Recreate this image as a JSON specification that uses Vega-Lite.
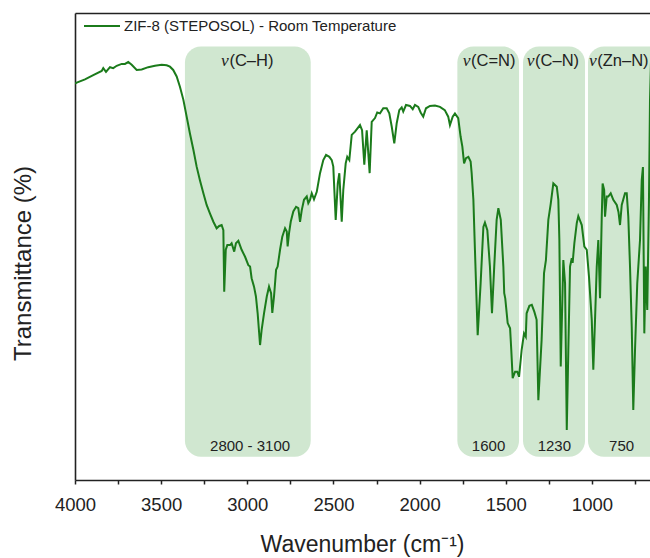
{
  "$schema": "https://vega.github.io/schema/vega-lite/v6.json",
  "width": 575,
  "height": 467,
  "autosize": {"type": "none"},
  "padding": {"left": 75, "top": 13, "right": 0, "bottom": 78},
  "background": "white",
  "config": {
    "view": {"stroke": null},
    "font": "Liberation Sans",
    "text": {"font": "Liberation Sans", "color": "#222222"}
  },
  "datasets": {
    "spectrum": [
      {"wn": 4000, "t": 84.9}, {"wn": 3990, "t": 85.1}, {"wn": 3942, "t": 85.8}, {"wn": 3894, "t": 86.7},
      {"wn": 3845, "t": 87.6}, {"wn": 3836, "t": 88.2}, {"wn": 3820, "t": 87.4}, {"wn": 3797, "t": 88.4},
      {"wn": 3778, "t": 88.2}, {"wn": 3758, "t": 88.7}, {"wn": 3729, "t": 89.1}, {"wn": 3710, "t": 89.1},
      {"wn": 3691, "t": 89.5}, {"wn": 3671, "t": 88.9}, {"wn": 3642, "t": 87.8}, {"wn": 3613, "t": 87.9},
      {"wn": 3575, "t": 88.4}, {"wn": 3536, "t": 88.7}, {"wn": 3497, "t": 88.9}, {"wn": 3468, "t": 88.8},
      {"wn": 3449, "t": 88.5}, {"wn": 3430, "t": 87.8}, {"wn": 3410, "t": 86.4}, {"wn": 3391, "t": 84.2},
      {"wn": 3371, "t": 81.4}, {"wn": 3352, "t": 77.8}, {"wn": 3333, "t": 74.2}, {"wn": 3313, "t": 70.7},
      {"wn": 3294, "t": 67.1}, {"wn": 3275, "t": 64.2}, {"wn": 3255, "t": 61.4}, {"wn": 3236, "t": 58.9},
      {"wn": 3217, "t": 57.1}, {"wn": 3197, "t": 55.3}, {"wn": 3178, "t": 53.9}, {"wn": 3163, "t": 54.4},
      {"wn": 3149, "t": 54.6}, {"wn": 3139, "t": 53.5}, {"wn": 3134, "t": 40.3}, {"wn": 3125, "t": 49.3},
      {"wn": 3116, "t": 50.3}, {"wn": 3100, "t": 50.3}, {"wn": 3091, "t": 50.7}, {"wn": 3076, "t": 48.9},
      {"wn": 3066, "t": 50.7}, {"wn": 3052, "t": 51.2}, {"wn": 3033, "t": 49.3}, {"wn": 3013, "t": 47.8},
      {"wn": 2994, "t": 46.0}, {"wn": 2984, "t": 45.7}, {"wn": 2975, "t": 43.2}, {"wn": 2961, "t": 41.4},
      {"wn": 2950, "t": 39.3}, {"wn": 2940, "t": 35.7}, {"wn": 2926, "t": 28.9}, {"wn": 2917, "t": 32.1},
      {"wn": 2903, "t": 35.7}, {"wn": 2887, "t": 39.3}, {"wn": 2874, "t": 41.4}, {"wn": 2862, "t": 40.0},
      {"wn": 2855, "t": 35.8}, {"wn": 2845, "t": 39.3}, {"wn": 2833, "t": 45.0}, {"wn": 2824, "t": 45.7},
      {"wn": 2810, "t": 49.3}, {"wn": 2797, "t": 52.1}, {"wn": 2781, "t": 53.9}, {"wn": 2771, "t": 53.2},
      {"wn": 2766, "t": 50.0}, {"wn": 2758, "t": 52.8}, {"wn": 2748, "t": 55.3}, {"wn": 2733, "t": 57.5},
      {"wn": 2717, "t": 58.5}, {"wn": 2704, "t": 58.2}, {"wn": 2694, "t": 55.3}, {"wn": 2684, "t": 57.8},
      {"wn": 2671, "t": 60.0}, {"wn": 2655, "t": 60.7}, {"wn": 2646, "t": 59.3}, {"wn": 2636, "t": 60.0},
      {"wn": 2626, "t": 61.4}, {"wn": 2613, "t": 60.1}, {"wn": 2597, "t": 61.7}, {"wn": 2578, "t": 65.7},
      {"wn": 2559, "t": 68.5}, {"wn": 2543, "t": 69.6}, {"wn": 2524, "t": 69.2}, {"wn": 2510, "t": 68.5},
      {"wn": 2501, "t": 67.1}, {"wn": 2487, "t": 55.7}, {"wn": 2475, "t": 63.5}, {"wn": 2466, "t": 65.7},
      {"wn": 2452, "t": 55.3}, {"wn": 2443, "t": 62.1}, {"wn": 2429, "t": 67.8}, {"wn": 2420, "t": 69.2},
      {"wn": 2408, "t": 68.5}, {"wn": 2394, "t": 73.9}, {"wn": 2375, "t": 74.6}, {"wn": 2346, "t": 76.0},
      {"wn": 2334, "t": 74.9}, {"wn": 2321, "t": 67.5}, {"wn": 2307, "t": 74.9}, {"wn": 2290, "t": 65.7},
      {"wn": 2278, "t": 76.7}, {"wn": 2259, "t": 77.5}, {"wn": 2246, "t": 78.7}, {"wn": 2230, "t": 78.5},
      {"wn": 2211, "t": 79.6}, {"wn": 2191, "t": 79.6}, {"wn": 2176, "t": 78.5}, {"wn": 2162, "t": 75.7},
      {"wn": 2147, "t": 72.1}, {"wn": 2133, "t": 76.4}, {"wn": 2118, "t": 79.2}, {"wn": 2104, "t": 79.8},
      {"wn": 2095, "t": 78.9}, {"wn": 2079, "t": 80.3}, {"wn": 2056, "t": 80.1}, {"wn": 2040, "t": 79.4},
      {"wn": 2027, "t": 80.3}, {"wn": 2008, "t": 79.9}, {"wn": 1994, "t": 78.7}, {"wn": 1979, "t": 77.8},
      {"wn": 1963, "t": 79.6}, {"wn": 1940, "t": 80.1}, {"wn": 1911, "t": 80.2}, {"wn": 1882, "t": 79.9},
      {"wn": 1854, "t": 79.2}, {"wn": 1834, "t": 77.8}, {"wn": 1824, "t": 76.0}, {"wn": 1808, "t": 77.8},
      {"wn": 1795, "t": 78.5}, {"wn": 1776, "t": 77.5}, {"wn": 1762, "t": 73.5}, {"wn": 1752, "t": 71.4},
      {"wn": 1742, "t": 67.8}, {"wn": 1731, "t": 68.9}, {"wn": 1717, "t": 69.2}, {"wn": 1704, "t": 68.2},
      {"wn": 1698, "t": 65.7}, {"wn": 1688, "t": 60.0}, {"wn": 1679, "t": 49.3}, {"wn": 1663, "t": 31.0},
      {"wn": 1646, "t": 42.1}, {"wn": 1630, "t": 54.2}, {"wn": 1621, "t": 55.1}, {"wn": 1607, "t": 53.5},
      {"wn": 1592, "t": 45.7}, {"wn": 1580, "t": 35.7}, {"wn": 1567, "t": 45.7}, {"wn": 1553, "t": 55.7},
      {"wn": 1543, "t": 58.2}, {"wn": 1529, "t": 55.7}, {"wn": 1514, "t": 45.7}, {"wn": 1509, "t": 40.0},
      {"wn": 1503, "t": 38.9}, {"wn": 1489, "t": 33.6}, {"wn": 1475, "t": 32.5}, {"wn": 1468, "t": 27.8},
      {"wn": 1460, "t": 21.8}, {"wn": 1446, "t": 23.2}, {"wn": 1433, "t": 23.2}, {"wn": 1423, "t": 22.1},
      {"wn": 1408, "t": 27.8}, {"wn": 1394, "t": 31.4}, {"wn": 1384, "t": 30.7}, {"wn": 1379, "t": 35.7},
      {"wn": 1363, "t": 37.3}, {"wn": 1349, "t": 37.5}, {"wn": 1334, "t": 36.0}, {"wn": 1321, "t": 34.3},
      {"wn": 1311, "t": 17.1}, {"wn": 1292, "t": 30.0}, {"wn": 1278, "t": 44.3}, {"wn": 1267, "t": 47.1},
      {"wn": 1253, "t": 55.7}, {"wn": 1239, "t": 59.2}, {"wn": 1224, "t": 63.5}, {"wn": 1204, "t": 62.8},
      {"wn": 1195, "t": 60.0}, {"wn": 1189, "t": 51.4}, {"wn": 1181, "t": 24.3}, {"wn": 1166, "t": 47.1},
      {"wn": 1156, "t": 42.1}, {"wn": 1146, "t": 10.7}, {"wn": 1137, "t": 27.8}, {"wn": 1127, "t": 45.7},
      {"wn": 1117, "t": 47.5}, {"wn": 1112, "t": 46.5}, {"wn": 1102, "t": 50.7}, {"wn": 1088, "t": 55.0},
      {"wn": 1079, "t": 56.5}, {"wn": 1059, "t": 54.6}, {"wn": 1044, "t": 50.0}, {"wn": 1030, "t": 49.3},
      {"wn": 1017, "t": 43.5}, {"wn": 1001, "t": 34.3}, {"wn": 992, "t": 23.6}, {"wn": 982, "t": 34.3},
      {"wn": 972, "t": 45.7}, {"wn": 963, "t": 51.4}, {"wn": 953, "t": 38.9}, {"wn": 943, "t": 56.4},
      {"wn": 938, "t": 63.5}, {"wn": 929, "t": 62.1}, {"wn": 924, "t": 56.4}, {"wn": 914, "t": 60.7},
      {"wn": 905, "t": 60.7}, {"wn": 891, "t": 61.4}, {"wn": 876, "t": 60.0}, {"wn": 856, "t": 58.9},
      {"wn": 846, "t": 57.4}, {"wn": 837, "t": 54.6}, {"wn": 827, "t": 58.9}, {"wn": 808, "t": 61.4},
      {"wn": 798, "t": 61.4}, {"wn": 789, "t": 56.4}, {"wn": 779, "t": 45.7}, {"wn": 769, "t": 32.8},
      {"wn": 760, "t": 15.0}, {"wn": 750, "t": 27.8}, {"wn": 737, "t": 42.1}, {"wn": 721, "t": 51.4},
      {"wn": 711, "t": 64.2}, {"wn": 704, "t": 67.0}, {"wn": 696, "t": 31.4}, {"wn": 688, "t": 45.7},
      {"wn": 679, "t": 36.4}, {"wn": 669, "t": 60.0}, {"wn": 663, "t": 81.4}, {"wn": 657, "t": 89.9}
    ],
    "bands": [
      {"lo": 2632, "hi": 3362, "anchor": 3104, "mode": "(C–H)", "range": "2800 - 3100", "mid": 2984},
      {"lo": 1423, "hi": 1781, "anchor": 1702, "mode": "(C=N)", "range": "1600", "mid": 1600},
      {"lo": 1040, "hi": 1400, "anchor": 1330, "mode": "(C–N)", "range": "1230", "mid": 1218},
      {"lo": 560, "hi": 1023, "anchor": 969, "mode": "(Zn–N)", "range": "750", "mid": 828}
    ]
  },
  "layer": [
    {
      "data": {"name": "bands"},
      "mark": {"type": "rect", "cornerRadius": 16, "color": "#d0e7d0", "clip": true},
      "encoding": {
        "x": {
          "field": "lo", "type": "quantitative",
          "scale": {"domain": [663, 4000], "reverse": true, "nice": false, "zero": false},
          "axis": {"orient": "top", "title": null, "labels": false, "ticks": false, "grid": false,
                   "domain": true, "domainColor": "#222222", "domainWidth": 1.6}
        },
        "x2": {"field": "hi"},
        "y": {"datum": 92.8, "type": "quantitative",
              "scale": {"domain": [0, 100], "nice": false, "zero": false}},
        "y2": {"datum": 5.0}
      }
    },
    {
      "data": {"name": "spectrum"},
      "mark": {"type": "line", "strokeWidth": 2, "clip": true, "interpolate": "linear"},
      "encoding": {
        "x": {
          "field": "wn", "type": "quantitative",
          "scale": {"domain": [663, 4000], "reverse": true, "nice": false, "zero": false},
          "axis": {
            "orient": "bottom",
            "title": "Wavenumber (cm⁻¹)",
            "titleFont": "Liberation Sans", "titleFontSize": 23, "titleFontWeight": "normal",
            "titleColor": "#222222", "titleX": 287, "titleY": 64, "titleBaseline": "middle",
            "titleAlign": "center",
            "values": [750, 1000, 1250, 1500, 1750, 2000, 2250, 2500, 2750, 3000, 3250, 3500, 3750, 4000],
            "format": "d",
            "labelExpr": "datum.value % 500 === 0 ? datum.label : ''",
            "labelFont": "Liberation Sans", "labelFontSize": 18.5, "labelColor": "#222222",
            "labelPadding": 11, "labelFlush": false, "labelOverlap": false,
            "tickSize": 4, "tickWidth": 1.5, "tickColor": "#222222",
            "domainColor": "#222222", "domainWidth": 1.6, "grid": false
          }
        },
        "y": {
          "field": "t", "type": "quantitative",
          "scale": {"domain": [0, 100], "nice": false, "zero": false},
          "axis": {
            "orient": "left",
            "title": "Transmittance (%)",
            "titleFont": "Liberation Sans", "titleFontSize": 24, "titleFontWeight": "normal",
            "titleColor": "#222222", "titleX": -52, "titleY": 250, "titleBaseline": "middle",
            "titleAlign": "center", "titleAngle": -90,
            "labels": false, "ticks": false, "grid": false, "domain": true,
            "domainColor": "#222222", "domainWidth": 1.6
          }
        },
        "color": {
          "datum": "ZIF-8 (STEPOSOL) - Room Temperature",
          "type": "nominal",
          "scale": {"range": ["#1b7b1b"]},
          "legend": {
            "title": null, "orient": "none", "legendX": 8, "legendY": -6, "padding": 0,
            "symbolType": "stroke", "symbolSize": 1296, "symbolStrokeWidth": 2,
            "labelFont": "Liberation Sans", "labelFontSize": 15, "labelColor": "#222222",
            "labelOffset": 3, "labelLimit": 500
          }
        }
      }
    },
    {
      "data": {"name": "bands"},
      "mark": {"type": "text", "align": "left", "baseline": "alphabetic", "fontSize": 16.5,
               "font": "Liberation Sans", "color": "#222222"},
      "encoding": {
        "x": {"field": "anchor", "type": "quantitative", "axis": null,
              "scale": {"domain": [663, 4000], "reverse": true, "nice": false, "zero": false}},
        "y": {"datum": 88.6, "type": "quantitative"},
        "text": {"field": "mode"}
      }
    },
    {
      "data": {"name": "bands"},
      "mark": {"type": "text", "align": "right", "baseline": "alphabetic", "fontSize": 17.5,
               "font": "Liberation Serif", "fontStyle": "italic", "color": "#222222", "dx": -0.5},
      "encoding": {
        "x": {"field": "anchor", "type": "quantitative", "axis": null,
              "scale": {"domain": [663, 4000], "reverse": true, "nice": false, "zero": false}},
        "y": {"datum": 88.6, "type": "quantitative"},
        "text": {"value": "ν"}
      }
    },
    {
      "data": {"name": "bands"},
      "mark": {"type": "text", "align": "center", "baseline": "alphabetic", "fontSize": 15,
               "font": "Liberation Sans", "color": "#222222"},
      "encoding": {
        "x": {"field": "mid", "type": "quantitative", "axis": null,
              "scale": {"domain": [663, 4000], "reverse": true, "nice": false, "zero": false}},
        "y": {"datum": 6.3, "type": "quantitative"},
        "text": {"field": "range"}
      }
    }
  ],
  "resolve": {"axis": {"x": "independent"}}
}
